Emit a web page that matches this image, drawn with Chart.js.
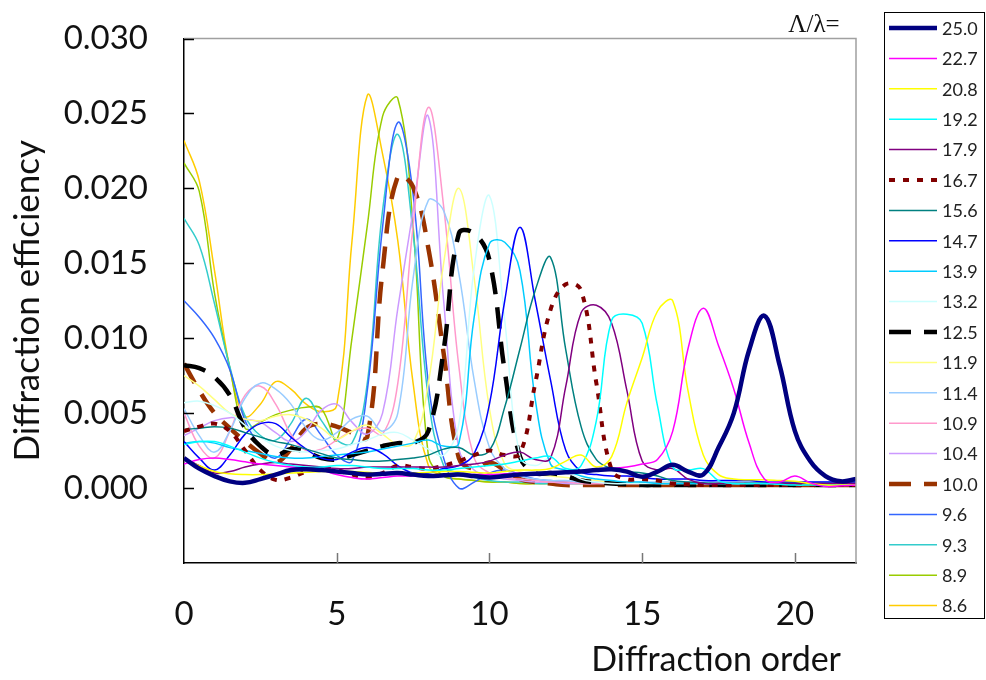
<!DOCTYPE html>
<html>
<head>
<meta charset="utf-8">
<script src="https://cdn.jsdelivr.net/npm/chart.js@4.4.0/dist/chart.umd.min.js"></script>
<style>
  html, body { margin: 0; padding: 0; background: #fff; }
</style>
</head>
<body>
<canvas id="chart" width="986" height="680"></canvas>
<script>
// diffraction order (x)
const ORDERS = [0, 0.5, 1, 1.5, 2, 2.5, 3, 3.5, 4, 4.5,
  5, 5.5, 6, 6.5, 7, 7.5, 8, 8.5, 9, 9.5,
  10, 10.5, 11, 11.5, 12, 12.5, 13, 13.5, 14, 14.5,
  15, 15.5, 16, 16.5, 17, 17.5, 18, 18.5, 19, 19.5,
  20, 20.5, 21, 21.5, 22];

// diffraction efficiency, in units of 1e-3
const EFF_25_0 = [2.0, 1.3, 0.8, 0.45, 0.35, 0.6, 0.9, 1.2, 1.25, 1.2,
  1.1, 1.0, 0.9, 0.95, 1.0, 0.9, 0.8, 0.85, 0.9, 0.8,
  0.7, 0.8, 0.9, 0.95, 1.0, 1.05, 1.1, 1.2, 1.25, 1.1,
  0.75, 1.1, 1.55, 1.1, 0.9, 2.7, 5.0, 9.2, 11.5, 8.2,
  3.8, 1.8, 0.8, 0.45, 0.6];
const EFF_22_7 = [1.6, 1.9, 2.0, 1.9, 1.75, 1.6, 1.5, 1.4, 1.3, 1.2,
  0.9, 0.7, 0.6, 0.7, 0.8, 0.8, 0.8, 0.85, 0.9, 0.9,
  0.9, 0.95, 1.0, 1.0, 1.05, 1.1, 1.15, 1.2, 1.3, 1.4,
  1.6, 1.9, 3.8, 9.3, 12.0, 9.5, 6.6, 3.0, 0.6, 0.4,
  0.8, 0.35, 0.1, 0.15, 0.2];
const EFF_20_8 = [1.9, 1.5, 1.1, 0.95, 0.9, 0.9, 0.95, 1.0, 1.05, 1.1,
  1.1, 1.1, 1.05, 1.0, 1.0, 1.0, 1.05, 1.1, 1.1, 1.05,
  1.0, 1.1, 1.2, 1.2, 1.3, 1.8, 2.2, 1.4, 2.1, 5.7,
  8.7, 11.8, 12.5, 6.5, 2.2, 0.9, 0.6, 0.55, 0.55, 0.5,
  0.45, 0.3, 0.2, 0.2, 0.2];
const EFF_19_2 = [2.9, 3.1, 3.1, 2.8, 2.4, 2.0, 1.7, 1.5, 1.4, 1.4,
  1.5, 1.5, 1.4, 1.3, 1.3, 1.3, 1.2, 1.2, 1.3, 1.4,
  1.5, 1.6, 1.8, 2.0, 2.1, 1.3, 1.5, 4.5, 11.2, 11.6,
  11.0, 5.5, 1.4, 1.2, 1.3, 0.5, 0.3, 0.3, 0.3, 0.25,
  0.2, 0.2, 0.2, 0.2, 0.2];
const EFF_17_9 = [2.0, 1.5, 1.0, 1.1, 1.4, 1.6, 1.7, 1.6, 1.5, 1.4,
  1.3, 1.3, 1.4, 1.4, 1.4, 1.4, 1.4, 1.4, 1.5, 1.6,
  1.8, 2.2, 2.4, 1.9, 2.0, 6.8, 11.7, 12.2, 11.0, 6.5,
  1.8, 1.2, 1.3, 0.6, 0.3, 0.3, 0.3, 0.3, 0.3, 0.3,
  0.3, 0.3, 0.3, 0.3, 0.3];
const EFF_16_7 = [3.8, 4.1, 4.3, 3.8, 2.5, 1.2, 0.55, 0.7, 1.1, 1.3,
  1.2, 0.9, 0.7, 1.0, 1.5, 1.4, 1.3, 1.5, 1.8, 2.2,
  2.5, 2.2, 2.3, 7.0, 11.9, 13.6, 13.2, 7.0, 1.2, 0.6,
  0.6, 0.5, 0.3, 0.25, 0.2, 0.2, 0.2, 0.2, 0.2, 0.2,
  0.2, 0.2, 0.2, 0.2, 0.2];
const EFF_15_6 = [3.9, 4.0, 4.1, 4.0, 3.7, 3.4, 3.1, 2.9, 2.6, 2.3,
  2.0, 1.9, 1.8, 1.8, 1.9, 2.0, 2.2, 2.6, 2.7, 2.2,
  2.5, 5.4, 9.3, 13.2, 15.4, 9.2, 4.1, 1.9, 1.3, 1.1,
  1.0, 0.8, 0.5, 0.4, 0.35, 0.3, 0.3, 0.3, 0.3, 0.3,
  0.3, 0.3, 0.3, 0.3, 0.3];
const EFF_14_7 = [3.1, 2.0, 1.2, 2.2, 3.6, 4.3, 4.3, 3.4, 2.6, 2.0,
  1.9, 2.4, 2.7, 2.3, 1.5, 1.0, 1.0, 1.3, 1.5, 2.3,
  5.6, 12.5, 17.4, 12.5, 7.2, 2.5, 1.1, 0.9, 0.8, 0.8,
  0.7, 0.6, 0.6, 0.6, 0.5, 0.5, 0.5, 0.5, 0.4, 0.4,
  0.4, 0.4, 0.4, 0.4, 0.4];
const EFF_13_9 = [3.0, 3.1, 3.0, 2.7, 2.5, 2.3, 2.1, 2.0, 2.0, 2.1,
  2.2, 2.3, 2.4, 2.6, 2.8, 3.0, 3.2, 2.8, 3.0, 11.4,
  16.3, 16.4, 14.5, 5.9, 1.6, 1.2, 0.8, 0.6, 0.5, 0.4,
  0.4, 0.3, 0.3, 0.3, 0.3, 0.3, 0.3, 0.3, 0.3, 0.3,
  0.3, 0.3, 0.3, 0.3, 0.3];
const EFF_13_2 = [5.7, 5.8, 5.5, 5.0, 4.2, 3.4, 2.8, 2.5, 2.4, 2.5,
  2.6, 2.9, 3.2, 3.6, 3.7, 3.2, 2.6, 2.2, 4.3, 14.7,
  19.5, 11.2, 2.1, 1.5, 2.0, 1.2, 0.6, 0.4, 0.3, 0.3,
  0.3, 0.3, 0.3, 0.3, 0.3, 0.3, 0.3, 0.3, 0.3, 0.3,
  0.3, 0.3, 0.3, 0.3, 0.3];
const EFF_12_5 = [8.2, 8.0, 7.4, 6.2, 4.0, 2.8, 2.2, 2.6, 2.4, 2.0,
  1.9, 2.2, 2.5, 2.8, 3.0, 3.0, 3.8, 9.2, 17.0, 17.0,
  15.2, 7.8, 2.1, 1.0, 1.0, 0.8, 0.5, 0.4, 0.3, 0.25,
  0.2, 0.2, 0.2, 0.2, 0.2, 0.2, 0.2, 0.2, 0.2, 0.2,
  0.2, 0.2, 0.2, 0.2, 0.2];
const EFF_11_9 = [7.5, 6.8, 5.9, 5.0, 4.6, 4.5, 4.8, 4.9, 4.6, 4.0,
  3.3, 3.8, 4.2, 3.6, 2.9, 3.0, 7.0, 15.0, 20.0, 14.0,
  5.3, 1.6, 1.1, 0.9, 0.8, 0.7, 0.6, 0.5, 0.4, 0.4,
  0.3, 0.3, 0.3, 0.3, 0.3, 0.3, 0.3, 0.3, 0.3, 0.3,
  0.3, 0.3, 0.3, 0.3, 0.3];
const EFF_11_4 = [5.3, 3.5, 2.4, 3.8, 6.0, 7.0, 6.6, 5.6, 4.0, 3.2,
  3.7, 4.6, 4.8, 3.8, 5.0, 14.0, 19.2, 18.5, 14.3, 7.2,
  2.7, 1.3, 0.8, 0.6, 0.5, 0.5, 0.4, 0.4, 0.4, 0.4,
  0.4, 0.4, 0.4, 0.4, 0.4, 0.4, 0.4, 0.4, 0.4, 0.4,
  0.4, 0.4, 0.4, 0.4, 0.4];
const EFF_10_9 = [5.0, 2.8, 2.0, 3.8, 6.2, 6.8, 5.6, 3.6, 2.5, 2.6,
  3.2, 3.8, 4.0, 3.6, 7.0, 17.5, 25.4, 18.8, 8.1, 2.0,
  1.0, 0.7, 0.6, 0.5, 0.4, 0.4, 0.3, 0.3, 0.3, 0.3,
  0.3, 0.3, 0.3, 0.3, 0.3, 0.3, 0.3, 0.3, 0.3, 0.3,
  0.3, 0.3, 0.3, 0.3, 0.3];
const EFF_10_4 = [3.5, 4.0, 4.5, 4.7, 4.6, 4.4, 3.7, 3.1, 3.8, 5.2,
  5.6, 4.4, 3.6, 5.0, 12.0, 18.5, 24.8, 12.5, 2.6, 1.2,
  0.8, 0.6, 0.5, 0.4, 0.4, 0.3, 0.3, 0.3, 0.3, 0.3,
  0.3, 0.3, 0.3, 0.3, 0.3, 0.3, 0.3, 0.3, 0.3, 0.3,
  0.3, 0.3, 0.3, 0.3, 0.3];
const EFF_10_0 = [8.3, 6.5, 5.0, 4.0, 3.1, 2.3, 1.7, 2.6, 4.0, 4.3,
  4.1, 3.7, 3.4, 14.5, 20.8, 20.1, 16.0, 9.0, 2.0, 1.3,
  1.7, 1.2, 0.6, 0.4, 0.3, 0.2, 0.2, 0.2, 0.2, 0.2,
  0.2, 0.2, 0.2, 0.2, 0.2, 0.2, 0.2, 0.2, 0.2, 0.2,
  0.2, 0.2, 0.2, 0.2, 0.2];
const EFF_9_6 = [12.5, 11.4, 10.0, 7.9, 4.5, 2.8, 2.0, 3.3, 4.6, 3.5,
  2.2, 1.8, 6.5, 17.4, 24.4, 19.6, 7.0, 2.0, 0.0, 0.4,
  1.0, 1.2, 0.9, 0.6, 0.5, 0.4, 0.4, 0.3, 0.3, 0.3,
  0.3, 0.3, 0.3, 0.3, 0.3, 0.3, 0.3, 0.3, 0.3, 0.3,
  0.3, 0.3, 0.3, 0.3, 0.3];
const EFF_9_3 = [18.0, 16.2, 12.3, 8.1, 4.8, 3.5, 3.2, 4.3, 6.0, 4.5,
  3.2, 3.0, 7.0, 18.5, 23.6, 17.0, 6.0, 1.5, 1.0, 0.7,
  0.5, 0.4, 0.4, 0.3, 0.3, 0.3, 0.3, 0.3, 0.3, 0.3,
  0.3, 0.3, 0.3, 0.3, 0.3, 0.3, 0.3, 0.3, 0.3, 0.3,
  0.3, 0.3, 0.3, 0.3, 0.3];
const EFF_8_9 = [21.7, 19.8, 13.0, 8.0, 4.0, 4.4, 4.9, 5.2, 5.4, 5.3,
  3.2, 10.0, 17.5, 24.8, 26.0, 17.5, 2.2, 0.8, 0.6, 0.5,
  0.4, 0.4, 0.3, 0.3, 0.3, 0.3, 0.3, 0.3, 0.3, 0.3,
  0.3, 0.3, 0.3, 0.3, 0.3, 0.3, 0.3, 0.3, 0.3, 0.3,
  0.3, 0.3, 0.3, 0.3, 0.3];
const EFF_8_6 = [23.2, 20.5, 14.5, 8.0, 4.8, 5.6, 7.1, 6.6, 5.6, 5.1,
  5.5, 16.5, 26.2, 22.3, 16.5, 7.0, 1.5, 0.8, 0.6, 0.5,
  0.4, 0.4, 0.3, 0.3, 0.3, 0.3, 0.3, 0.3, 0.3, 0.3,
  0.3, 0.3, 0.3, 0.3, 0.3, 0.3, 0.3, 0.3, 0.3, 0.3,
  0.3, 0.3, 0.3, 0.3, 0.3];

// Λ/λ of each curve
const SERIES_LABELS = ['25.0', '22.7', '20.8', '19.2', '17.9', '16.7', '15.6', '14.7', '13.9', '13.2',
  '12.5', '11.9', '11.4', '10.9', '10.4', '10.0', '9.6', '9.3', '8.9', '8.6'];
const SERIES_VALUES = [EFF_25_0, EFF_22_7, EFF_20_8, EFF_19_2, EFF_17_9, EFF_16_7, EFF_15_6, EFF_14_7, EFF_13_9, EFF_13_2,
  EFF_12_5, EFF_11_9, EFF_11_4, EFF_10_9, EFF_10_4, EFF_10_0, EFF_9_6, EFF_9_3, EFF_8_9, EFF_8_6];

// y tick values (1e-3 units)
const Y_TICKS = [0, 5, 10, 15, 20, 25, 30];
const X_TICKS = [5, 10, 15, 20];

// styles
const LINE_COLORS = ['#000080', '#ff00ff', '#ffff00', '#00ffff', '#800080', '#800000', '#008080', '#0000ff', '#00ccff', '#ccffff',
  '#000000', '#ffff80', '#99ccff', '#ff99cc', '#cc99ff', '#993300', '#3366ff', '#33cccc', '#99cc00', '#ffcc00'];
const LINE_WIDTHS = [4.5, 1.5, 1.5, 1.5, 1.5, 4, 1.5, 1.5, 1.5, 1.5,
  4.5, 1.5, 1.5, 1.5, 1.5, 4.5, 1.5, 1.5, 1.5, 1.5];
const LINE_DASHES = [[], [], [], [], [], [6, 8], [], [], [], [],
  [22, 13], [], [], [], [], [22, 13], [], [], [], []];

const FONT = 'Lato';

// axis ticks, top/right frame, x axis title
const frame = {
  id: 'frame',
  afterDatasetsDraw(chart) {
    const { ctx, chartArea: a, scales } = chart;
    ctx.save();
    ctx.strokeStyle = '#a0a0a0';
    ctx.lineWidth = 1.5;
    ctx.beginPath();
    ctx.moveTo(a.left, a.top);
    ctx.lineTo(a.right, a.top);
    ctx.lineTo(a.right, a.bottom);
    ctx.stroke();
    ctx.strokeStyle = '#000';
    ctx.beginPath();
    Y_TICKS.forEach(v => {
      const y = Math.round(scales.y.getPixelForValue(v)) + 0.5;
      ctx.moveTo(a.left, y);
      ctx.lineTo(a.left + 10, y);
    });
    ctx.stroke();
    ctx.strokeStyle = '#777';
    ctx.beginPath();
    X_TICKS.forEach(v => {
      const x = Math.round(scales.x.getPixelForValue(v)) + 0.5;
      ctx.moveTo(x, a.bottom);
      ctx.lineTo(x, a.bottom - 10);
    });
    ctx.stroke();
    ctx.font = '34px ' + FONT;
    ctx.fillStyle = '#111';
    ctx.textAlign = 'right';
    ctx.textBaseline = 'alphabetic';
    ctx.fillText('Diffraction order', 841, 671);
    ctx.restore();
  }
};

// boxed legend on the right
const legendBox = {
  id: 'legendBox',
  afterDraw(chart) {
    const ctx = chart.ctx;
    ctx.save();
    ctx.strokeStyle = '#000';
    ctx.lineWidth = 1;
    ctx.strokeRect(884.5, 12.5, 100, 606);
    ctx.font = '18px ' + FONT;
    ctx.textBaseline = 'middle';
    ctx.textAlign = 'left';
    chart.data.datasets.forEach((ds, i) => {
      const y = 28 + i * 30.4;
      ctx.beginPath();
      ctx.strokeStyle = ds.borderColor;
      ctx.lineWidth = ds.borderWidth;
      ctx.setLineDash(ds.borderDash);
      ctx.moveTo(889, y);
      ctx.lineTo(937, y);
      ctx.stroke();
      ctx.setLineDash([]);
      ctx.fillStyle = '#222';
      ctx.fillText(ds.label, 942, y + 1);
    });
    ctx.font = '25px "Liberation Serif"';
    ctx.textAlign = 'center';
    ctx.textBaseline = 'alphabetic';
    ctx.fillStyle = '#111';
    ctx.fillText('Λ/λ=', 814, 32);
    ctx.restore();
  }
};

const datasets = SERIES_LABELS.map((label, i) => ({
  label: label,
  data: ORDERS.map((x, j) => ({ x: x, y: SERIES_VALUES[i][j] })),
  borderColor: LINE_COLORS[i],
  borderWidth: LINE_WIDTHS[i],
  borderDash: LINE_DASHES[i],
  pointRadius: 0,
  tension: 0.4,
  fill: false
}));

new Chart(document.getElementById('chart'), {
  type: 'line',
  data: { datasets: datasets },
  plugins: [frame, legendBox],
  options: {
    responsive: false,
    animation: false,
    layout: { padding: { left: 0, top: 38.5, right: 130, bottom: 0 } },
    plugins: { legend: { display: false }, tooltip: { enabled: false } },
    scales: {
      x: {
        type: 'linear',
        min: 0,
        max: 22,
        afterFit: s => { s.height = 117; },
        afterBuildTicks: s => { s.ticks = s.ticks.filter(t => t.value % 5 === 0); },
        grid: { display: false, drawTicks: false },
        border: { display: true, color: '#000', width: 1.5 },
        ticks: { stepSize: 5, padding: 32, color: '#111', font: { family: FONT, size: 33 } },
        title: { display: false }
      },
      y: {
        min: -5,
        max: 30,
        afterFit: s => { s.width = 184; s.paddingTop = 0; s.paddingBottom = 0; },
        grid: { display: false, drawTicks: false },
        border: { display: true, color: '#000', width: 1.5 },
        ticks: {
          stepSize: 5, padding: 36, color: '#111', font: { family: FONT, size: 33 },
          callback: v => v < 0 ? '' : (v / 1000).toFixed(3)
        },
        title: {
          display: true, text: 'Diffraction efficiency',
          color: '#111', font: { family: FONT, size: 35 }, padding: { top: 7, bottom: 0 }
        }
      }
    }
  }
});
</script>
</body>
</html>
